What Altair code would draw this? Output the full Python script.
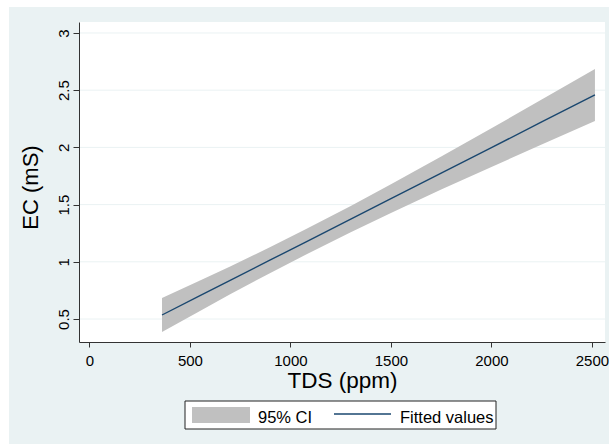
import altair as alt
import pandas as pd

# ---- data ----
tds = [361, 550, 700, 900, 1078, 1300, 1500, 1750, 2000, 2250, 2515]
fitted = [0.535, 0.704, 0.838, 1.016, 1.175, 1.373, 1.552, 1.775, 1.998, 2.222, 2.458]
ci_low = [0.386, 0.571, 0.716, 0.903, 1.064, 1.258, 1.427, 1.631, 1.829, 2.026, 2.231]
ci_high = [0.684, 0.837, 0.960, 1.129, 1.286, 1.488, 1.677, 1.920, 2.167, 2.418, 2.685]
x_ticks = [0, 500, 1000, 1500, 2000, 2500]
y_ticks = [0.5, 1, 1.5, 2, 2.5, 3]

df = pd.DataFrame({"tds": tds, "fit": fitted, "lo": ci_low, "hi": ci_high})
grid_df = pd.DataFrame({"t": y_ticks})
one = pd.DataFrame({"a": [0]})

W, H = 526, 320
FONT = "Liberation Sans"
BG = "#EAF2F3"
NAVY = "#1A476F"
GRAY = "#C0C0C0"

xscale = alt.Scale(domain=[-52, 2565], nice=False, zero=False)
yscale = alt.Scale(domain=[0.299, 3.096], nice=False, zero=False)

x_axis = alt.Axis(values=x_ticks, format="d", title="TDS (ppm)",
                  grid=False, zindex=1, labelFlush=False, labelOverlap=False,
                  tickSize=5, labelPadding=6, labelFontSize=15,
                  titleFontSize=22.5, titleY=45, titleBaseline="alphabetic",
                  titleFontWeight="normal")
y_axis = alt.Axis(values=y_ticks, format="~g", title="EC (mS)",
                  grid=False, zindex=1, labelFlush=False, labelOverlap=False,
                  labelAngle=270, labelAlign="center", labelBaseline="alphabetic",
                  tickSize=6, labelPadding=5, labelFontSize=15,
                  titleFontSize=22, titleAngle=270, titleAlign="center",
                  titleBaseline="alphabetic", titleX=-42, titleY=165,
                  titleFontWeight="normal")

bg = alt.Chart(one).mark_rect(color=BG).encode(
    x=alt.value(-70), x2=alt.value(530), y=alt.value(-15), y2=alt.value(422)
)
plot_bg = alt.Chart(one).mark_rect(color="white").encode(
    x=alt.value(0), x2=alt.value(W), y=alt.value(0), y2=alt.value(H)
)
grid = alt.Chart(grid_df).mark_rule(color=BG, strokeWidth=1).encode(
    y=alt.Y("t:Q", scale=yscale, axis=y_axis),
    x=alt.value(0), x2=alt.value(W)
)

band = alt.Chart(df).mark_area(color=GRAY, opacity=1).encode(
    x=alt.X("tds:Q", scale=xscale, axis=x_axis),
    y=alt.Y("lo:Q", scale=yscale, axis=y_axis),
    y2="hi:Q",
)

line = alt.Chart(df).mark_line(color=NAVY, strokeWidth=1.4).encode(
    x=alt.X("tds:Q", scale=xscale, axis=x_axis),
    y=alt.Y("fit:Q", scale=yscale, axis=y_axis),
)

leg_box = alt.Chart(one).mark_rect(fill="white", stroke="#222222", strokeWidth=1).encode(
    x=alt.value(106), x2=alt.value(417), y=alt.value(379), y2=alt.value(407)
)
leg_sw = alt.Chart(one).mark_rect(color=GRAY).encode(
    x=alt.value(113), x2=alt.value(171), y=alt.value(385), y2=alt.value(401)
)
leg_t1 = alt.Chart(one).mark_text(text="95% CI", align="left", baseline="alphabetic",
                                   fontSize=16.5, font=FONT, color="black").encode(
    x=alt.value(179), y=alt.value(401)
)
leg_ln = alt.Chart(one).mark_rule(color=NAVY, strokeWidth=1.4).encode(
    x=alt.value(255), x2=alt.value(312), y=alt.value(392)
)
leg_t2 = alt.Chart(one).mark_text(text="Fitted values", align="left", baseline="alphabetic",
                                   fontSize=16.5, font=FONT, color="black").encode(
    x=alt.value(321), y=alt.value(401)
)

chart = alt.layer(
    bg, plot_bg, grid, band, line, leg_box, leg_sw, leg_t1, leg_ln, leg_t2
).properties(
    width=W, height=H,
    padding={"left": 79, "top": 22, "right": 4, "bottom": 103},
    autosize=alt.AutoSizeParams(type="none"),
    background="white",
).configure_view(
    stroke=None
).configure_axis(
    labelFont=FONT, titleFont=FONT, labelColor="black", titleColor="black",
    domainColor="#333333", tickColor="#333333", domainWidth=1, tickWidth=1,
)

chart.save("out.html", embed_options={"renderer": "svg", "actions": False})
